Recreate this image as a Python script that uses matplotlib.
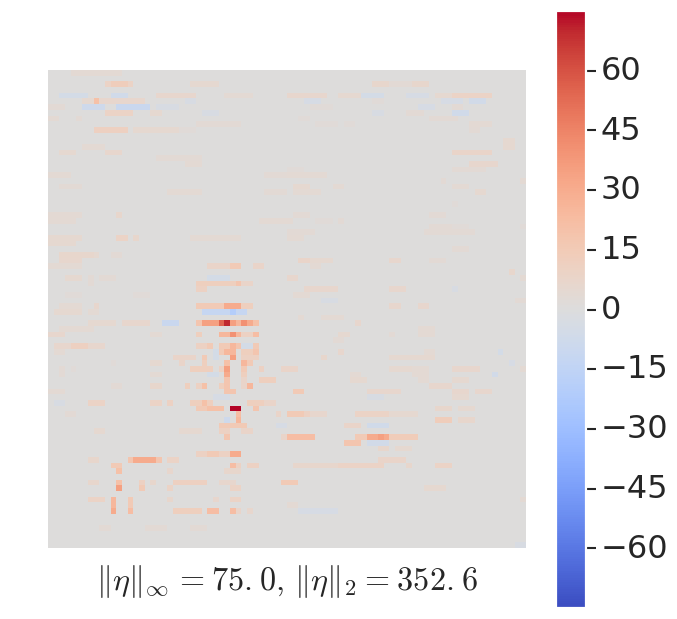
import numpy as np
import matplotlib
matplotlib.use('Agg')
from matplotlib import pyplot as plt
from matplotlib.transforms import ScaledTranslation

plt.rcParams['mathtext.fontset'] = 'cm'
plt.rcParams['font.family'] = 'DejaVu Sans'

n_cells = 84
eta_limit = 75.0
cbar_ticks = [-60, -45, -30, -15, 0, 15, 30, 45, 60]
norm_label = (r'$\Vert\eta\Vert_\infty\hspace{0.12}=\hspace{0.05}75.{}\hspace{0.06}0,\hspace{0.15}'
              r'\Vert\eta\Vert_2\hspace{0.05}=\hspace{0.05}352.{}\hspace{0.06}6$')

# each entry: row, first col, last col, eta value
top_cells = [
    (0, 4, 12, 4), (2, 10, 14, 9), (2, 11, 13, 13), (2, 25, 29, 5), (4, 19, 25, 6), (4, 31, 35, 4),
    (5, 6, 7, 5), (5, 8, 8, 20), (5, 9, 16, 6), (6, 0, 2, 3), (7, 10, 14, 9),
    (7, 18, 19, 5), (8, 0, 1, 4), (8, 5, 5, 3), (9, 26, 33, 3), (10, 8, 13, 11), (10, 15, 22, 5),
    (10, 23, 25, 2), (13, 6, 9, 4), (14, 2, 4, 5), (14, 10, 12, 6), (15, 19, 26, 3),
    (16, 24, 26, 4), (18, 0, 3, 4), (18, 38, 42, 3), (20, 2, 5, 3), (21, 21, 26, 4), (21, 38, 41, 3),
    (25, 0, 5, 4), (25, 12, 12, 7), (26, 0, 4, 4), (26, 37, 42, 4), (28, 66, 74, 3), (29, 0, 5, 5),
    (29, 12, 13, 9), (29, 15, 15, 7), (29, 25, 33, 4), (30, 0, 4, 5), (32, 2, 8, 7), (33, 2, 5, 6),
]
left_cells = [
    (32, 8, 8, 5), (32, 11, 12, 3), (34, 0, 5, 4), (36, 3, 5, 5), (36, 7, 7, 3), (36, 9, 11, 3),
    (37, 7, 7, 3), (39, 3, 5, 2), (39, 15, 17, 2), (41, 2, 5, 4), (41, 8, 8, 6), (42, 1, 5, 5),
    (42, 7, 8, 4), (44, 7, 11, 5), (44, 13, 17, 6), (45, 2, 7, 4), (46, 0, 2, 6), (46, 18, 19, 4),
    (48, 1, 9, 6), (48, 4, 6, 11), (49, 1, 2, 4), (51, 18, 19, 5), (51, 11, 11, 2), (52, 2, 2, 3),
    (52, 4, 4, 2), (53, 2, 2, 3), (53, 18, 19, 4), (55, 11, 12, 3), (56, 0, 2, 4), (58, 7, 9, 9),
    (58, 18, 19, 9), (60, 3, 4, 3),
]
centre_cells = [
    (34, 28, 31, 8), (34, 32, 33, 15), (34, 36, 37, 8), (37, 26, 32, 12), (37, 33, 33, 18), (37, 34, 35, 8),
    (38, 26, 27, 10), (41, 26, 30, 15), (41, 31, 33, 30), (41, 34, 35, 12), (44, 26, 26, 18), (44, 27, 29, 35),
    (44, 30, 30, 55), (44, 31, 31, 70), (44, 32, 32, 35), (44, 33, 33, 25), (44, 34, 34, 40), (44, 35, 35, 30),
    (44, 36, 36, 20), (46, 26, 26, 12), (46, 30, 31, 25), (46, 32, 32, 40), (46, 33, 33, 25), (46, 34, 35, 10),
    (46, 36, 36, 22), (48, 26, 27, 10), (48, 28, 28, 15), (48, 30, 31, 15), (48, 32, 32, 25), (48, 33, 33, 18),
    (48, 36, 36, 15), (49, 29, 31, 15), (49, 31, 32, 25), (49, 34, 35, 12), (49, 36, 36, 18), (50, 22, 25, 8),
    (50, 27, 27, 15), (50, 32, 32, 35), (50, 34, 36, 10), (51, 23, 23, 8), (51, 27, 27, 12), (51, 31, 31, 20),
    (51, 34, 34, 25), (51, 35, 35, 15), (52, 25, 28, 12), (52, 30, 30, 10), (52, 31, 31, 35), (52, 34, 34, 15),
    (52, 37, 37, 10), (52, 41, 42, 8), (53, 31, 31, 30), (53, 34, 34, 12), (54, 31, 31, 18), (54, 34, 34, 8),
    (54, 37, 39, 12), (55, 18, 19, 7), (55, 24, 24, 12), (55, 26, 26, 10), (55, 27, 27, 20), (55, 30, 30, 12),
    (55, 31, 31, 18), (55, 34, 34, 8), (55, 35, 35, 25), (56, 31, 32, 18), (56, 43, 44, 15), (58, 21, 21, 10),
    (58, 25, 28, 12), (58, 27, 27, 20), (58, 35, 37, 12), (58, 38, 39, 8), (59, 26, 28, 15), (59, 28, 30, 20),
    (59, 32, 33, 75), (59, 36, 36, 18), (60, 33, 33, 22), (60, 40, 40, 8), (60, 42, 44, 15), (60, 45, 45, 10),
    (60, 46, 48, 6), (61, 33, 33, 25), (62, 30, 34, 15),
]
lower_left_cells = [
    (63, 8, 9, 5), (63, 23, 26, 5), (63, 30, 31, 10), (63, 34, 35, 8), (64, 31, 31, 18), (67, 26, 31, 10),
    (67, 28, 29, 15), (67, 32, 33, 30), (68, 7, 8, 7), (68, 14, 14, 18), (68, 15, 18, 30), (68, 19, 19, 18),
    (68, 21, 22, 9), (69, 11, 12, 15), (69, 32, 32, 22), (69, 33, 33, 10), (69, 35, 36, 10), (70, 12, 12, 20),
    (70, 21, 21, 6), (70, 31, 33, 7), (72, 7, 8, 7), (72, 12, 12, 20), (72, 16, 16, 10), (72, 18, 18, 7),
    (72, 22, 27, 11), (72, 30, 32, 6), (73, 12, 12, 35), (73, 16, 16, 15), (73, 21, 21, 9), (73, 32, 33, 9),
    (75, 7, 9, 9), (75, 11, 11, 25), (75, 14, 14, 15), (75, 21, 21, 7), (75, 29, 29, 6), (75, 32, 33, 9),
    (76, 11, 11, 25), (76, 14, 14, 15), (77, 11, 11, 30), (77, 14, 14, 22), (77, 22, 26, 12), (77, 28, 29, 22),
    (77, 32, 32, 22), (77, 33, 33, 8), (77, 35, 35, 6), (80, 9, 10, 3), (80, 17, 20, 3), (80, 25, 27, 3),
]
upper_right_cells = [
    (2, 57, 59, 7), (2, 60, 63, 3), (2, 64, 66, 7), (4, 42, 48, 6), (4, 51, 55, 5), (4, 68, 70, 5),
    (4, 71, 77, 9), (5, 57, 58, 2), (6, 46, 49, 2), (6, 71, 72, 3), (7, 63, 65, 3), (8, 44, 45, 2),
    (8, 67, 71, 3), (9, 74, 77, 4), (9, 47, 50, 2), (9, 52, 53, 2), (10, 74, 75, 3), (12, 80, 81, 5),
    (13, 80, 81, 5), (14, 71, 77, 8), (16, 74, 78, 6), (17, 71, 76, 3), (17, 42, 44, 2), (18, 42, 48, 4),
    (19, 83, 83, 4), (19, 69, 69, 3), (20, 43, 45, 5), (20, 50, 51, 4), (20, 71, 73, 4), (21, 43, 47, 4),
    (21, 75, 76, 5), (23, 71, 71, 2), (25, 43, 45, 3), (25, 67, 69, 3), (26, 47, 49, 2), (26, 51, 51, 3),
    (27, 67, 70, 3), (27, 71, 73, 2), (27, 83, 83, 2), (28, 42, 46, 3),
]
mid_right_cells = [
    (29, 42, 44, 4), (31, 71, 73, 3), (33, 44, 45, 8), (33, 46, 49, 5), (33, 60, 61, 6), (33, 67, 69, 3),
    (34, 46, 47, 4), (35, 81, 81, 7), (36, 42, 43, 6), (36, 83, 83, 4), (38, 45, 50, 6), (38, 60, 62, 6),
    (39, 43, 45, 4), (40, 82, 83, 3), (41, 60, 61, 6), (41, 65, 66, 6), (43, 44, 44, 4), (43, 48, 51, 4),
    (44, 54, 54, 6), (45, 65, 67, 4), (46, 51, 52, 5), (46, 60, 60, 3), (46, 65, 67, 4), (47, 50, 51, 3),
    (49, 51, 51, 6), (49, 66, 67, 4), (50, 48, 48, 7), (50, 60, 67, 5), (52, 43, 43, 8), (52, 60, 63, 5),
    (52, 64, 66, 4), (52, 71, 73, 6), (52, 74, 75, 6), (52, 83, 83, 4), (53, 53, 54, 4), (53, 64, 66, 4),
    (54, 53, 55, 5), (54, 65, 66, 4), (54, 71, 73, 5), (55, 67, 70, 6),
]
lower_right_cells = [
    (56, 56, 61, 6), (56, 71, 73, 6), (56, 75, 77, 6), (57, 71, 73, 5), (59, 68, 70, 7), (59, 72, 74, 5),
    (60, 54, 59, 9), (60, 60, 64, 5), (61, 68, 70, 13), (61, 72, 74, 7), (62, 52, 54, 8), (64, 41, 41, 8),
    (64, 42, 46, 22), (64, 54, 55, 15), (64, 56, 59, 30), (64, 58, 58, 35), (64, 60, 64, 14), (65, 52, 54, 18),
    (66, 58, 59, 7), (66, 61, 63, 5), (68, 58, 62, 8), (69, 43, 50, 7), (69, 51, 58, 9), (69, 63, 63, 7),
    (69, 68, 70, 9), (72, 41, 43, 15), (73, 66, 69, 5), (75, 83, 83, 4), (76, 42, 43, 4),
]
blue_cells = [
    (4, 2, 6, -5), (4, 11, 13, -7), (4, 55, 58, -5), (4, 63, 66, -4), (5, 24, 25, -3), (5, 45, 47, -4),
    (5, 69, 72, -4), (5, 74, 76, -6), (6, 6, 9, -8), (6, 12, 17, -10), (6, 19, 22, -3), (6, 65, 67, -4),
    (7, 27, 29, -3), (7, 57, 58, -3), (7, 71, 73, -7), (36, 28, 31, -5), (38, 71, 71, -3), (40, 48, 50, -3),
    (42, 27, 34, -12), (42, 32, 32, -20), (44, 20, 22, -10), (48, 34, 35, -5), (49, 29, 29, -5), (49, 79, 79, -5),
    (50, 29, 29, -5), (51, 81, 81, -4), (53, 28, 29, -5), (53, 78, 78, -6), (57, 29, 31, -4), (57, 56, 58, -3),
    (58, 1, 2, -3), (61, 31, 31, -8), (62, 40, 41, -4), (62, 56, 59, -7), (65, 56, 59, -6), (77, 44, 50, -4),
    (83, 82, 83, -3),
]

eta = np.zeros((n_cells, n_cells))
for cells in [top_cells, left_cells, centre_cells, lower_left_cells, upper_right_cells, mid_right_cells,
              lower_right_cells, blue_cells]:
    for row, c0, c1, val in cells:
        eta[row, c0:c1 + 1] = val

fig = plt.figure(figsize=(6.77, 6.19), dpi=100)
ax = fig.add_axes([48 / 677, 1 - 548 / 619, 478 / 677, 478 / 619])
im = ax.imshow(eta, cmap='coolwarm', vmin=-eta_limit, vmax=eta_limit, interpolation='nearest', aspect='auto')
ax.set_xticks([])
ax.set_yticks([])
for s in ax.spines.values():
    s.set_visible(False)

# white outline hides the start of the ticks, leaves the small gap next to the bar
cax = fig.add_axes([555.9 / 677, 1 - 608.1 / 619, 30.2 / 677, 597.2 / 619])
cbar = fig.colorbar(im, cax=cax)
cbar.outline.set_edgecolor('white')
cbar.outline.set_linewidth(1.6)
cbar.set_ticks(cbar_ticks)
cbar.ax.tick_params(labelsize=23, length=7.2, width=1.5, pad=3.2, color='.15', labelcolor='.15')
label_shift = ScaledTranslation(0, 2 / 72, fig.dpi_scale_trans)
for lab in cbar.ax.get_yticklabels():
    lab.set_transform(lab.get_transform() + label_shift)

fig.text(287.5 / 677, 1 - 581 / 619, norm_label, fontsize=23.2, ha='center', va='center', color='.15')

fig.savefig('out.png', dpi=100)
